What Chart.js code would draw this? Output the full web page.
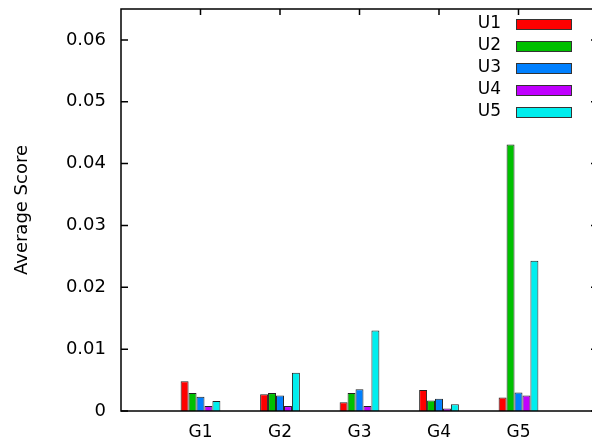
<!DOCTYPE html>
<html>
<head>
<meta charset="utf-8">
<script src="https://cdn.jsdelivr.net/npm/chart.js@4"></script>
<style>
	html, body { margin: 0; padding: 0; background: #fff; overflow: hidden; }
	#wrap { width: 600px; height: 441px; position: relative; }
</style>
</head>
<body>
<div id="wrap"><canvas id="barChart"></canvas></div>
<script>
const groups = ['G1', 'G2', 'G3', 'G4', 'G5'];
const seriesNames = ['U1', 'U2', 'U3', 'U4', 'U5'];
const u1 = [0.0048, 0.0027, 0.0014, 0.0034, 0.0022];
const u2 = [0.0029, 0.0029, 0.0029, 0.0017, 0.0431];
const u3 = [0.0023, 0.0025, 0.0035, 0.0020, 0.0030];
const u4 = [0.0008, 0.0008, 0.0008, 0.0004, 0.0025];
const u5 = [0.0016, 0.0062, 0.0130, 0.0011, 0.0243];
const yTicks = [0, 0.01, 0.02, 0.03, 0.04, 0.05, 0.06];
const colors = ['#ff0000', '#00c000', '#0080ff', '#c000ff', '#00eeee'];

const FONT = "'DejaVu Sans', sans-serif";

// gnuplot leaves an empty slot either side of the groups
const labels = ['', ...groups, ''];
const pad = (arr) => [null, ...arr, null];

const noPad = (scale) => {
	scale.paddingTop = 0;
	scale.paddingBottom = 0;
	scale.paddingLeft = 0;
	scale.paddingRight = 0;
};

const frame = {
	id: 'frame',
	beforeDatasetsDraw(chart) {
		const { ctx, chartArea: a, scales: { x } } = chart;
		ctx.save();
		ctx.strokeStyle = '#000';
		ctx.lineWidth = 1.5;
		groups.forEach((g, i) => {
			const px = x.getPixelForValue(i + 1);
			ctx.beginPath();
			ctx.moveTo(px, a.bottom);
			ctx.lineTo(px, a.bottom - 6);
			ctx.stroke();
		});
		ctx.restore();
	},
	afterDatasetsDraw(chart) {
		const { ctx, chartArea: a, scales: { x, y } } = chart;
		ctx.save();
		ctx.strokeStyle = '#000';
		ctx.lineWidth = 1.5;
		ctx.strokeRect(a.left, a.top, a.right - a.left, a.bottom - a.top);
		yTicks.forEach((v) => {
			const py = y.getPixelForValue(v);
			ctx.beginPath();
			ctx.moveTo(a.left, py);
			ctx.lineTo(a.left + 7, py);
			ctx.moveTo(a.right, py);
			ctx.lineTo(a.right - 7, py);
			ctx.stroke();
		});
		groups.forEach((g, i) => {
			const px = x.getPixelForValue(i + 1);
			ctx.beginPath();
			ctx.moveTo(px, a.top);
			ctx.lineTo(px, a.top + 6);
			ctx.stroke();
		});

		// key, top right, text left of the sample box
		ctx.font = '17px ' + FONT;
		ctx.textAlign = 'right';
		ctx.textBaseline = 'middle';
		chart.data.datasets.forEach((ds, i) => {
			const cy = a.top + 15 + i * 22;
			ctx.fillStyle = '#000';
			ctx.fillText(ds.label, 501, cy);
			ctx.fillStyle = ds.backgroundColor;
			ctx.fillRect(516, cy - 5, 55, 10);
			ctx.lineWidth = 1;
			ctx.strokeStyle = '#333';
			ctx.strokeRect(516.5, cy - 4.5, 55, 10);
		});
		ctx.restore();
	}
};

const seriesData = [u1, u2, u3, u4, u5];

new Chart(document.getElementById('barChart'), {
	type: 'bar',
	data: {
		labels: labels,
		datasets: seriesNames.map((name, i) => ({
			label: name,
			data: pad(seriesData[i]),
			backgroundColor: colors[i],
			borderColor: '#222',
			borderWidth: 1,
			categoryPercentage: 0.5,
			barPercentage: 1
		}))
	},
	options: {
		responsive: true,
		maintainAspectRatio: false,
		animation: false,
		layout: { padding: { top: 9, left: 0, right: 2, bottom: 0 } },
		scales: {
			x: {
				offset: false,
				grid: { display: false, drawTicks: false },
				border: { display: false },
				ticks: {
					color: '#000',
					font: { family: FONT, size: 17 },
					padding: 11,
					maxRotation: 0,
					autoSkip: false
				},
				afterFit(scale) {
					scale.height = 30;
					noPad(scale);
				}
			},
			y: {
				min: 0,
				max: 0.065,
				grid: { display: false, drawTicks: false },
				border: { display: false },
				afterBuildTicks(scale) {
					scale.ticks = yTicks.map((v) => ({ value: v }));
				},
				ticks: {
					color: '#000',
					font: { family: FONT, size: 18 },
					padding: 15,
					callback: (v) => (v === 0 ? '0' : v.toFixed(2))
				},
				title: {
					display: true,
					text: 'Average Score',
					color: '#000',
					font: { family: FONT, size: 18 },
					padding: { top: 12, bottom: 0 }
				},
				afterFit(scale) {
					scale.width = 121;
					noPad(scale);
				}
			}
		},
		plugins: {
			legend: { display: false },
			tooltip: { enabled: false }
		}
	},
	plugins: [frame]
});
</script>
</body>
</html>
